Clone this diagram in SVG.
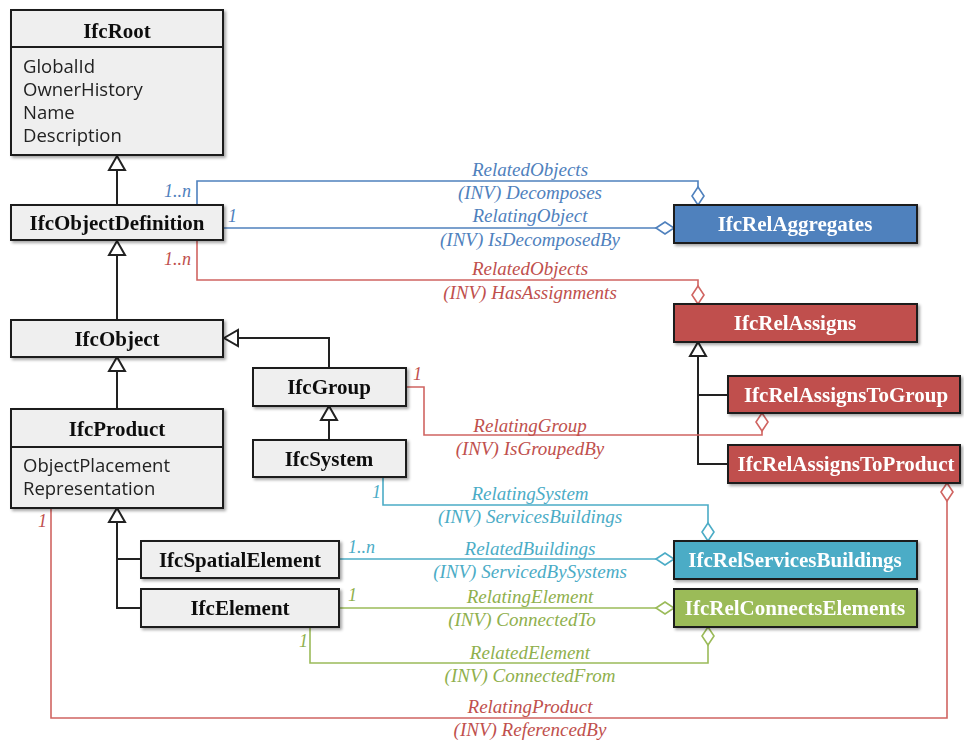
<svg xmlns="http://www.w3.org/2000/svg" width="964" height="740" viewBox="0 0 964 740">
<style>
.box{fill:#efefef;stroke:#1a1a1a;stroke-width:2}
.rel{stroke:#1a1a1a;stroke-width:2}
.title{font-family:"Liberation Serif",serif;font-weight:bold;font-size:21px;text-anchor:middle;fill:#111}
.rtitle{font-family:"Liberation Serif",serif;font-weight:bold;font-size:21px;text-anchor:middle;fill:#fff}
.attr{font-family:"Open Sans","Liberation Sans",sans-serif;font-size:18.5px;fill:#222}
.gen{fill:none;stroke:#222;stroke-width:2}
.tri{fill:#fff;stroke:#222;stroke-width:2}
.lbl{font-family:"Liberation Serif",serif;font-style:italic;font-size:19px;text-anchor:middle}
.mult{font-family:"Liberation Serif",serif;font-style:italic;font-size:18px}
.cb{stroke:#4f81bd;fill:none;stroke-width:1.6}
.cr{stroke:#d06461;fill:none;stroke-width:1.6}
.ct{stroke:#4bacc6;fill:none;stroke-width:1.6}
.cg{stroke:#9bbb59;fill:none;stroke-width:1.6}
.db{fill:#fff;stroke:#4f81bd;stroke-width:1.6}
.dr{fill:#fff;stroke:#d06461;stroke-width:1.6}
.dt{fill:#fff;stroke:#4bacc6;stroke-width:1.6}
.dg{fill:#fff;stroke:#9bbb59;stroke-width:1.6}
.tb{fill:#4f81bd}.tr{fill:#c0504d}.tt{fill:#4bacc6}.tg{fill:#8fb04d}
</style>
<defs>
<filter id="sh" x="-10%" y="-10%" width="130%" height="140%">
<feDropShadow dx="2" dy="2" stdDeviation="1.5" flood-color="#000" flood-opacity="0.35"/>
</filter>
</defs>

<g id="connectors">
<!-- generalizations -->
<path class="gen" d="M117,205 V170"/>
<polygon class="tri" points="117,156 125,170 109,170"/>
<path class="gen" d="M117,320 V255"/>
<polygon class="tri" points="117,241 125,255 109,255"/>
<path class="gen" d="M117,409 V371"/>
<polygon class="tri" points="117,357 125,371 109,371"/>
<path class="gen" d="M329,368 V338 H238"/>
<polygon class="tri" points="224,338 238,330 238,346"/>
<path class="gen" d="M329,440 V420"/>
<polygon class="tri" points="329,406 337,420 321,420"/>
<path class="gen" d="M117,522 V608 H141 M117,559 H141"/>
<polygon class="tri" points="117,508 125,522 109,522"/>
<path class="gen" d="M698,356 V464 H728 M698,395 H728"/>
<polygon class="tri" points="698,342 706,356 690,356"/>

<!-- associations -->
<path class="cb" d="M197,205 V181 H698 V187"/>
<polygon class="db" points="698,187 704,196 698,205 692,196"/>
<path class="cb" d="M223,228 H656"/>
<polygon class="db" points="656,228 665,222 674,228 665,234"/>
<path class="cr" d="M197,240 V280 H698 V286"/>
<polygon class="dr" points="698,286 704,295 698,304 692,295"/>
<path class="cr" d="M406,387 H424 V435 H762 V431"/>
<polygon class="dr" points="762,413 768,422 762,431 756,422"/>
<path class="cr" d="M947,501 V718 H51 V508"/>
<polygon class="dr" points="947,483 953,492 947,501 941,492"/>
<path class="ct" d="M383,477 V505 H708 V523"/>
<polygon class="dt" points="708,523 714,532 708,541 702,532"/>
<path class="ct" d="M339,559 H656"/>
<polygon class="dt" points="656,559 665,553 674,559 665,565"/>
<path class="cg" d="M339,608 H656"/>
<polygon class="dg" points="656,608 665,602 674,608 665,614"/>
<path class="cg" d="M310,627 V663 H708 V645"/>
<polygon class="dg" points="708,627 714,636 708,645 702,636"/>

<!-- labels -->
<text class="mult tb" x="191" y="197" text-anchor="end">1..n</text>
<text class="lbl tb" x="530" y="176">RelatedObjects</text>
<text class="lbl tb" x="530" y="199">(INV) Decomposes</text>
<text class="mult tb" x="228" y="222">1</text>
<text class="lbl tb" x="530" y="222">RelatingObject</text>
<text class="lbl tb" x="530" y="246">(INV) IsDecomposedBy</text>
<text class="mult tr" x="191" y="265" text-anchor="end">1..n</text>
<text class="lbl tr" x="530" y="275">RelatedObjects</text>
<text class="lbl tr" x="530" y="299">(INV) HasAssignments</text>
<text class="mult tr" x="413" y="380">1</text>
<text class="lbl tr" x="530" y="432">RelatingGroup</text>
<text class="lbl tr" x="530" y="455">(INV) IsGroupedBy</text>
<text class="mult tt" x="372" y="498">1</text>
<text class="lbl tt" x="530" y="500">RelatingSystem</text>
<text class="lbl tt" x="530" y="523">(INV) ServicesBuildings</text>
<text class="mult tt" x="348" y="553">1..n</text>
<text class="lbl tt" x="530" y="555">RelatedBuildings</text>
<text class="lbl tt" x="530" y="578">(INV) ServicedBySystems</text>
<text class="mult tg" x="348" y="601">1</text>
<text class="lbl tg" x="530" y="603">RelatingElement</text>
<text class="lbl tg" x="522" y="626">(INV) ConnectedTo</text>
<text class="mult tg" x="299" y="647">1</text>
<text class="lbl tg" x="530" y="659">RelatedElement</text>
<text class="lbl tg" x="530" y="682">(INV) ConnectedFrom</text>
<text class="mult tr" x="38" y="527">1</text>
<text class="lbl tr" x="530" y="713">RelatingProduct</text>
<text class="lbl tr" x="530" y="736">(INV) ReferencedBy</text>
</g>

<g id="IfcRoot" filter="url(#sh)">
<rect class="box" x="11" y="10" width="212" height="145"/>
<line x1="11" y1="47" x2="223" y2="47" stroke="#1a1a1a" stroke-width="2"/>
<text class="title" x="117" y="38">IfcRoot</text>
<text class="attr" x="23" y="73">GlobalId</text>
<text class="attr" x="23" y="96">OwnerHistory</text>
<text class="attr" x="23" y="119">Name</text>
<text class="attr" x="23" y="142">Description</text>
</g>
<g id="IfcObjectDefinition" filter="url(#sh)">
<rect class="box" x="11" y="205" width="212" height="35"/>
<text class="title" x="117" y="230">IfcObjectDefinition</text>
</g>
<g id="IfcObject" filter="url(#sh)">
<rect class="box" x="11" y="320" width="212" height="37"/>
<text class="title" x="117" y="346">IfcObject</text>
</g>
<g id="IfcProduct" filter="url(#sh)">
<rect class="box" x="11" y="409" width="212" height="99"/>
<line x1="11" y1="447" x2="223" y2="447" stroke="#1a1a1a" stroke-width="2"/>
<text class="title" x="117" y="436">IfcProduct</text>
<text class="attr" x="23" y="472">ObjectPlacement</text>
<text class="attr" x="23" y="495">Representation</text>
</g>
<g id="IfcGroup" filter="url(#sh)">
<rect class="box" x="253" y="368" width="153" height="38"/>
<text class="title" x="329" y="394">IfcGroup</text>
</g>
<g id="IfcSystem" filter="url(#sh)">
<rect class="box" x="253" y="440" width="153" height="37"/>
<text class="title" x="329" y="466">IfcSystem</text>
</g>
<g id="IfcSpatialElement" filter="url(#sh)">
<rect class="box" x="141" y="541" width="198" height="37"/>
<text class="title" x="240" y="567">IfcSpatialElement</text>
</g>
<g id="IfcElement" filter="url(#sh)">
<rect class="box" x="141" y="589" width="198" height="38"/>
<text class="title" x="240" y="615">IfcElement</text>
</g>
<g id="IfcRelAggregates" filter="url(#sh)">
<rect class="rel" x="674" y="205" width="243" height="38" fill="#4f81bd"/>
<text class="rtitle" x="795" y="231">IfcRelAggregates</text>
</g>
<g id="IfcRelAssigns" filter="url(#sh)">
<rect class="rel" x="674" y="304" width="243" height="38" fill="#c0504d"/>
<text class="rtitle" x="795" y="330">IfcRelAssigns</text>
</g>
<g id="IfcRelAssignsToGroup" filter="url(#sh)">
<rect class="rel" x="728" y="376" width="232" height="37" fill="#c0504d"/>
<text class="rtitle" x="846" y="402">IfcRelAssignsToGroup</text>
</g>
<g id="IfcRelAssignsToProduct" filter="url(#sh)">
<rect class="rel" x="728" y="445" width="232" height="38" fill="#c0504d"/>
<text class="rtitle" x="846" y="471">IfcRelAssignsToProduct</text>
</g>
<g id="IfcRelServicesBuildings" filter="url(#sh)">
<rect class="rel" x="674" y="541" width="243" height="38" fill="#4bacc6"/>
<text class="rtitle" x="795" y="567">IfcRelServicesBuildings</text>
</g>
<g id="IfcRelConnectsElements" filter="url(#sh)">
<rect class="rel" x="674" y="589" width="243" height="38" fill="#9bbb59"/>
<text class="rtitle" x="795" y="615">IfcRelConnectsElements</text>
</g>
</svg>
